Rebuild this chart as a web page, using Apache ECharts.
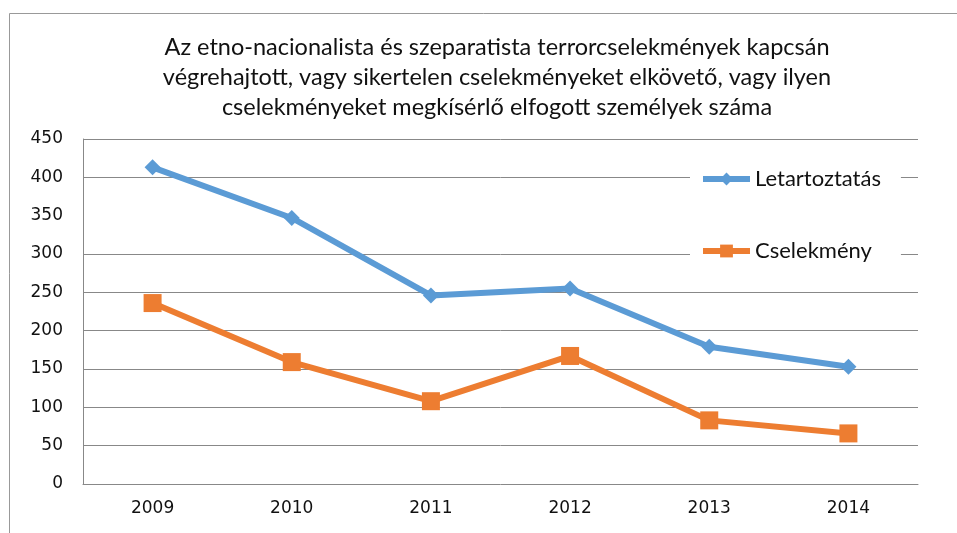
<!DOCTYPE html>
<html>
<head>
<meta charset="utf-8">
<script src="https://cdn.jsdelivr.net/npm/echarts@6/dist/echarts.min.js"></script>
<style>
  html, body { margin: 0; padding: 0; background: #fff; }
  #chart-container { width: 957px; height: 533px; }
</style>
</head>
<body>
<div id="chart-container"></div>
<script>
var years = ['2009', '2010', '2011', '2012', '2013', '2014'];
var letartoztatas = [413, 347, 246, 255, 179, 153];
var cselekmeny = [236, 159, 108, 167, 83, 66];
// horizontal gridlines that are drawn in the source (no line at 350)
var gridValues = [50, 100, 150, 200, 250, 300, 400, 450];
var titleText = 'Az etno-nacionalista és szeparatista terrorcselekmények kapcsán\n' +
  'végrehajtott, vagy sikertelen cselekményeket elkövető, vagy ilyen\n' +
  'cselekményeket megkísérlő elfogott személyek száma';

var dom = document.getElementById('chart-container');
var myChart = echarts.init(dom, null, { renderer: 'canvas' });

var option = {
  animation: false,
  backgroundColor: '#fff',
  graphic: [{
    type: 'rect',
    shape: { x: 9.5, y: 13.5, width: 960, height: 540 },
    style: { fill: 'none', stroke: '#999', lineWidth: 1 },
    silent: true
  }],
  title: {
    text: titleText,
    left: 492,
    textAlign: 'center',
    top: 27,
    textStyle: {
      fontFamily: 'Lato',
      fontSize: 23.5,
      fontWeight: 'normal',
      color: '#111',
      lineHeight: 30
    }
  },
  legend: {
    orient: 'vertical',
    left: 690,
    top: 158,
    z: 20,
    padding: [10, 20, 10, 10],
    backgroundColor: '#fff',
    itemGap: 50,
    itemWidth: 47,
    itemHeight: 16,
    lineStyle: { width: 6 },
    textStyle: { fontFamily: 'Lato', fontSize: 22, color: '#111' },
    data: ['Letartoztatás', 'Cselekmény']
  },
  grid: { left: 83, right: 39, top: 139, bottom: 49 },
  xAxis: {
    type: 'category',
    data: years,
    boundaryGap: true,
    axisLine: { lineStyle: { color: '#888', width: 1 } },
    axisTick: { show: false },
    axisLabel: { color: '#111', fontSize: 17, margin: 16, fontFamily: 'DejaVu Sans' }
  },
  yAxis: {
    type: 'value',
    min: 0,
    max: 450,
    interval: 50,
    axisLine: { show: true, lineStyle: { color: '#888', width: 1 } },
    axisTick: { show: false },
    axisLabel: { color: '#111', fontSize: 17, margin: 20, fontFamily: 'DejaVu Sans' },
    splitLine: { show: false }
  },
  series: [
    {
      name: 'grid',
      type: 'line',
      data: [],
      silent: true,
      z: 1,
      markLine: {
        silent: true,
        z: 1,
        symbol: 'none',
        label: { show: false },
        lineStyle: { color: '#888', width: 1, type: 'solid', opacity: 1 },
        emphasis: { disabled: true },
        data: gridValues.map(function (v) { return { yAxis: v }; })
      }
    },
    {
      name: 'Letartoztatás',
      type: 'line',
      data: letartoztatas,
      symbol: 'diamond',
      symbolSize: 16,
      z: 3,
      lineStyle: { color: '#5B9BD5', width: 6 },
      itemStyle: { color: '#5B9BD5' }
    },
    {
      name: 'Cselekmény',
      type: 'line',
      data: cselekmeny,
      symbol: 'rect',
      symbolSize: 18,
      z: 3,
      lineStyle: { color: '#ED7D31', width: 6 },
      itemStyle: { color: '#ED7D31' }
    }
  ]
};

myChart.setOption(option);
window.addEventListener('resize', myChart.resize);
</script>
</body>
</html>
